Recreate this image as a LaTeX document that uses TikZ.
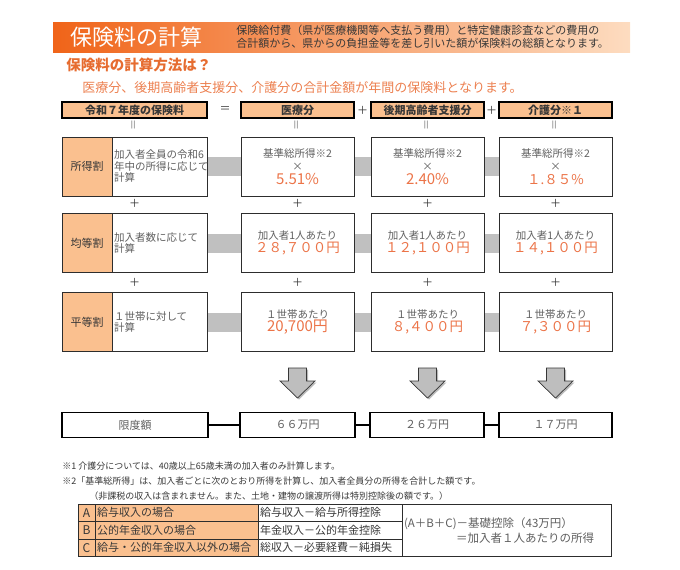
\documentclass[tikz,border=0pt]{standalone}
\usepackage{fontspec}
\setmainfont{Noto Sans CJK JP}
\usetikzlibrary{positioning, backgrounds}

\definecolor{peach}{RGB}{250,192,143}
\definecolor{barDark}{RGB}{240,100,25}
\definecolor{barLight}{RGB}{253,220,192}
\definecolor{titleOrange}{RGB}{230,108,48}
\definecolor{leadOrange}{RGB}{236,128,80}
\definecolor{valOrange}{RGB}{236,116,72}
\definecolor{textDark}{RGB}{55,55,55}
\definecolor{textGray}{RGB}{95,95,95}
\definecolor{boxLine}{RGB}{45,45,45}
\definecolor{bandGray}{RGB}{192,192,192}
\definecolor{arrowGray}{RGB}{190,190,190}

\newcommand{\feeVal}[1]{{\color{valOrange}\fontsize{15}{15}\selectfont #1}}
\newcommand{\feeValW}[1]{{\color{valOrange}\fontsize{13.5}{15}\selectfont #1}}

\begin{document}
\begin{tikzpicture}[
    x=1pt, y=-1pt,            % pixel-like grid, y grows downwards
    thick
  ]

  %--- styles for the boxes ---
  \tikzset{
    headBar/.style  ={rectangle, inner sep=0pt, outer sep=0pt,
    minimum width=577pt, minimum height=30pt,
    left color=barDark, right color=barLight},
    headBox/.style  ={rectangle, draw=black, line width=1.5pt, fill=peach,
    minimum height=16pt, inner sep=0pt,
    font=\fontsize{11}{12}\selectfont\bfseries, text=textDark},
    labelBox/.style ={rectangle, draw=boxLine, line width=0.8pt, fill=peach,
    minimum width=50pt, minimum height=59pt, inner sep=0pt, outer sep=0pt,
    font=\fontsize{11}{12}\selectfont, text=textDark},
    descBox/.style  ={rectangle, draw=boxLine, line width=0.8pt, fill=white,
    minimum width=95pt, minimum height=59pt, inner sep=2pt, outer sep=0pt,
    text width=91pt, align=left,
    font=\fontsize{10.5}{11.5}\selectfont, text=textGray},
    calcBox/.style  ={rectangle, draw=boxLine, line width=0.8pt, fill=white,
    minimum width=113pt, minimum height=59pt, inner sep=0pt, outer sep=0pt,
    align=center, font=\fontsize{10.5}{13.5}\selectfont, text=textGray},
    limitBox/.style ={rectangle, draw=black, line width=1.6pt, fill=white,
    minimum height=25pt, inner sep=0pt, outer sep=0pt,
    font=\fontsize{11}{12}\selectfont, text=textGray},
    band/.style     ={draw=bandGray, line width=19pt},
    link/.style     ={draw=black, line width=1.6pt},
    signText/.style ={inner sep=0pt, font=\fontsize{11}{12}\selectfont,
    text=textDark},
    eqMark/.style   ={signText, rotate=90, text=gray},
    noteText/.style ={anchor=west, inner sep=0pt,
    font=\fontsize{9}{10}\selectfont, text=textDark},
    bigArrow/.style ={fill=arrowGray, draw=textDark, line width=0.7pt},
    % table cells at the bottom
    tabKey/.style   ={rectangle, draw=boxLine, line width=0.8pt, fill=peach,
    minimum width=17pt, minimum height=17.5pt, inner sep=0pt, outer sep=0pt,
    font=\fontsize{12}{12}\selectfont, text=textDark},
    tabCase/.style  ={tabKey, minimum width=163pt, text width=159pt,
    inner sep=2pt, align=left, font=\fontsize{11}{12}\selectfont},
    tabRule/.style  ={tabCase, fill=white, minimum width=144pt,
    text width=140pt},
  }

  %------------------------------------------------------------------------------
  % 1) Title bar and lead texts
  %------------------------------------------------------------------------------
  \node[headBar] (bar) at (341.5,37) {};
  \node[anchor=west, inner sep=0pt, text=white,
  font=\fontsize{22}{22}\selectfont] (title) at (70,37) {保険料の計算};
  \node[anchor=west, inner sep=0pt, align=left, text=textDark,
  font=\fontsize{11}{13}\selectfont] (intro) at (236,37)
  {保険給付費（県が医療機関等へ支払う費用）と特定健康診査などの費用の\\
  合計額から、県からの負担金等を差し引いた額が保険料の総額となります。};

  \node[anchor=west, inner sep=0pt, text=titleOrange,
  font=\fontsize{14.5}{15}\selectfont\bfseries] (howto) at (66,65)
  {保険料の計算方法は？};
  \node[anchor=west, inner sep=0pt, text=leadOrange,
  font=\fontsize{13}{14}\selectfont] (lead) at (82,88)
  {医療分、後期高齢者支援分、介護分の合計金額が年間の保険料となります。};

  %------------------------------------------------------------------------------
  % 2) Header row:  total = medical + support + care
  %------------------------------------------------------------------------------
  \node[headBox, minimum width=145pt] (hTotal) at (134.5,110) {令和７年度の保険料};
  \node[headBox, minimum width=113pt] (hMed)   at (297.5,110) {医療分};
  \node[headBox, minimum width=113pt] (hSup)   at (427.5,110) {後期高齢者支援分};
  \node[headBox, minimum width=113pt] (hCare)  at (555.5,110) {介護分※１};

  \node[signText] (eqHead)   at (225,110)   {＝};
  \node[signText] (plusHead1) at (362.5,110) {＋};
  \node[signText] (plusHead2) at (491.5,110) {＋};

  %------------------------------------------------------------------------------
  % 3) The three rows (income / per member / per household)
  %------------------------------------------------------------------------------
  \node[labelBox] (lab1) at (87,166.5) {所得割};
  \node[descBox, right=0pt of lab1] (desc1)
  {加入者全員の令和6\\年中の所得に応じて\\計算};
  \node[calcBox] (med1)  at (297.5,166.5) {基準総所得※2\\×\\\feeVal{5.51\%}};
  \node[calcBox] (sup1)  at (427.5,166.5) {基準総所得※2\\×\\\feeVal{2.40\%}};
  \node[calcBox] (care1) at (555.5,166.5) {基準総所得※2\\×\\\feeValW{１.８５\%}};

  \node[labelBox] (lab2) at (87,243) {均等割};
  \node[descBox, right=0pt of lab2] (desc2) {加入者数に応じて\\計算};
  \node[calcBox] (med2)  at (297.5,243) {加入者1人あたり\\\feeValW{２８,７００円}};
  \node[calcBox] (sup2)  at (427.5,243) {加入者1人あたり\\\feeValW{１２,１００円}};
  \node[calcBox] (care2) at (555.5,243) {加入者1人あたり\\\feeValW{１４,１００円}};

  \node[labelBox] (lab3) at (87,322) {平等割};
  \node[descBox, right=0pt of lab3] (desc3) {１世帯に対して\\計算};
  \node[calcBox] (med3)  at (297.5,322) {１世帯あたり\\\feeVal{20,700円}};
  \node[calcBox] (sup3)  at (427.5,322) {１世帯あたり\\\feeValW{８,４００円}};
  \node[calcBox] (care3) at (555.5,322) {１世帯あたり\\\feeValW{７,３００円}};

  % grey bands between the boxes of a row
  \begin{scope}[on background layer]
    \foreach \r in {1,2,3} {
      \draw[band] (desc\r.east) -- (med\r.west);
      \draw[band] (med\r.east)  -- (sup\r.west);
      \draw[band] (sup\r.east)  -- (care\r.west);
    }
  \end{scope}

  % "||" under the header, "+" between the rows
  \foreach \cx [count=\ci] in {134.5,297.5,427.5,555.5} {
    \node[eqMark]   (eqCol\ci)  at (\cx,125)   {＝};
    \node[signText] (plusA\ci)  at (\cx,203.5) {＋};
    \node[signText] (plusB\ci)  at (\cx,282)   {＋};
  }

  %------------------------------------------------------------------------------
  % 4) Down arrows and the limits
  %------------------------------------------------------------------------------
  \foreach \cx in {297.5,427.5,555.5} {
    \fill[gray!55] ({\cx-7.5},369.5) -- ({\cx+10.5},369.5) -- ({\cx+10.5},382.5)
    -- ({\cx+19},382.5) -- ({\cx+1.5},399.5) -- ({\cx-16},382.5)
    -- ({\cx-7.5},382.5) -- cycle;
    \draw[bigArrow] ({\cx-9},368) -- ({\cx+9},368) -- ({\cx+9},381)
    -- ({\cx+17.5},381) -- (\cx,398) -- ({\cx-17.5},381)
    -- ({\cx-9},381) -- cycle;
  }

  \node[limitBox, minimum width=146pt] (lim0) at (135,425)   {限度額};
  \node[limitBox, minimum width=115pt] (lim1) at (297.5,425) {６６万円};
  \node[limitBox, minimum width=114pt] (lim2) at (427,425)   {２６万円};
  \node[limitBox, minimum width=113pt] (lim3) at (555.5,425) {１７万円};

  \draw[link] (lim0) -- (lim1);
  \draw[link] (lim1) -- (lim2);
  \draw[link] (lim2) -- (lim3);

  %------------------------------------------------------------------------------
  % 5) Notes and the income table
  %------------------------------------------------------------------------------
  \node[noteText] (note1) at (62,466)
  {※1 介護分については、40歳以上65歳未満の加入者のみ計算します。};
  \node[noteText] (note2) at (62,481)
  {※2「基準総所得」は、加入者ごとに次のとおり所得を計算し、加入者全員分の所得を合計した額です。};
  \node[noteText] (note3) at (89,496)
  {（非課税の収入は含まれません。また、土地・建物の譲渡所得は特別控除後の額です。）};

  \node[tabKey] (keyA) at (86.5,512.75) {A};
  \node[tabCase, right=0pt of keyA] (caseA) {給与収入の場合};
  \node[tabRule, right=0pt of caseA] (ruleA) {給与収入－給与所得控除};

  \node[tabKey, below=0pt of keyA] (keyB) {B};
  \node[tabCase, right=0pt of keyB] (caseB) {公的年金収入の場合};
  \node[tabRule, right=0pt of caseB] (ruleB) {年金収入－公的年金控除};

  \node[tabKey, below=0pt of keyB] (keyC) {C};
  \node[tabCase, right=0pt of keyC] (caseC) {給与・公的年金収入以外の場合};
  \node[tabRule, right=0pt of caseC] (ruleC) {総収入－必要経費－純損失};

  \node[rectangle, draw=boxLine, line width=0.8pt, fill=white,
  minimum width=209pt, minimum height=52.5pt, inner sep=2pt, outer sep=0pt,
  text width=205pt, align=left, text=textGray,
  font=\fontsize{11.5}{15}\selectfont] (sumIncome) at (506.5,530.25)
  {(A＋B＋C)－基礎控除（43万円）\\
  \hspace*{52pt}＝加入者１人あたりの所得};

  \useasboundingbox (0,0) rectangle (680,570);
\end{tikzpicture}
\end{document}
